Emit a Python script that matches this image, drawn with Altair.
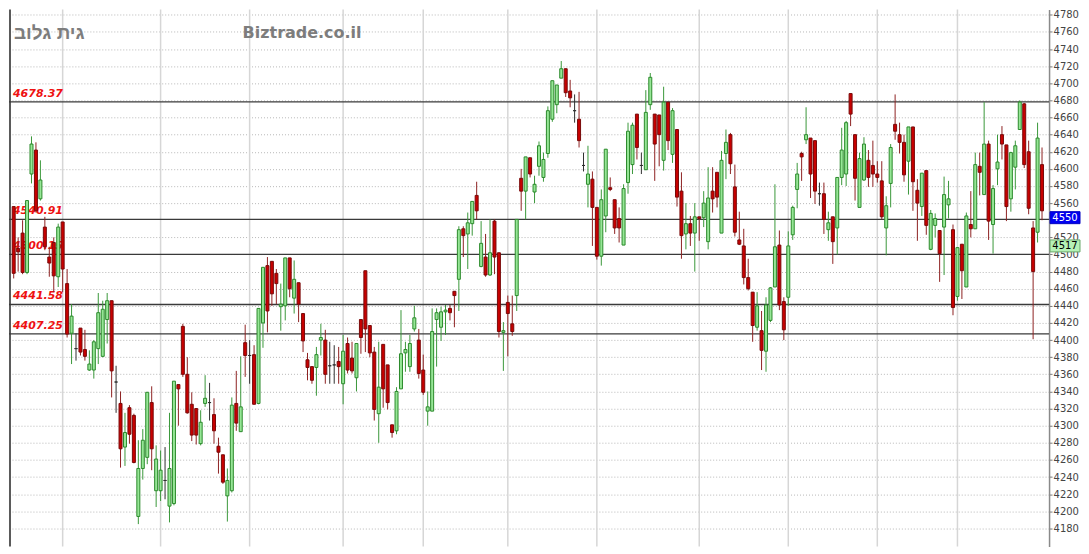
import altair as alt
import pandas as pd

# ---------------- data ----------------
opens = [
    4556, 4507, 4525, 4479, 4594, 4622, 4565, 4532, 4497, 4514,
    4474, 4538, 4466, 4408, 4390, 4414, 4389, 4365, 4365, 4390,
    4381, 4424, 4446, 4351, 4326, 4275, 4321, 4312, 4194, 4250,
    4263, 4327, 4224, 4224, 4236, 4206, 4209, 4348, 4416, 4360,
    4325, 4320, 4279, 4326, 4327, 4313, 4276, 4266, 4218, 4224,
    4326, 4293, 4397, 4382, 4383, 4326, 4420, 4487, 4492, 4478,
    4439, 4440, 4496, 4449, 4467, 4431, 4377, 4369, 4368, 4400,
    4400, 4370, 4371, 4375, 4349, 4396, 4379, 4356, 4424, 4481,
    4417, 4386, 4314, 4395, 4371, 4301, 4294, 4343, 4385, 4369,
    4413, 4400, 4365, 4317, 4317, 4424, 4415, 4433, 4437, 4457,
    4471, 4530, 4524, 4536, 4569, 4486, 4497, 4476, 4539, 4502,
    4409, 4444, 4419, 4452, 4589, 4574, 4613, 4573, 4603, 4590,
    4618, 4658, 4675, 4706, 4717, 4691, 4668, 4658, 4604, 4582,
    4588, 4555, 4498, 4545, 4578, 4564, 4542, 4511, 4584, 4605,
    4664, 4604, 4599, 4675, 4664, 4663, 4610, 4678, 4617, 4646,
    4574, 4524, 4536, 4525, 4544, 4543, 4515, 4574, 4596, 4525,
    4618, 4640, 4579, 4517, 4510, 4473, 4456, 4415, 4411, 4387,
    4423, 4462, 4511, 4445, 4450, 4523, 4576, 4618, 4634, 4636,
    4633, 4571, 4571, 4529, 4544, 4531, 4590, 4594, 4688, 4640,
    4555, 4587, 4610, 4604, 4594, 4586, 4531, 4583, 4652, 4640,
    4631, 4609, 4649, 4575, 4556, 4598, 4506, 4534, 4528, 4532,
    4558, 4529, 4451, 4512, 4462, 4535, 4530, 4603, 4570, 4629,
    4535, 4600, 4640, 4628, 4565, 4602, 4646, 4676, 4620, 4531,
    4526, 4605,
]
highs = [
    4556, 4520, 4540, 4563, 4638, 4631, 4610, 4544, 4509, 4520,
    4536, 4538, 4483, 4442, 4408, 4414, 4412, 4388, 4400, 4455,
    4446, 4455, 4446, 4370, 4340, 4315, 4324, 4314, 4283, 4296,
    4339, 4346, 4277, 4271, 4275, 4315, 4352, 4348, 4419, 4380,
    4339, 4320, 4318, 4359, 4350, 4332, 4286, 4266, 4250, 4333,
    4364, 4381, 4418, 4400, 4394, 4437, 4485, 4497, 4492, 4483,
    4466, 4496, 4496, 4493, 4467, 4431, 4385, 4369, 4392, 4419,
    4412, 4398, 4394, 4392, 4406, 4403, 4398, 4396, 4424, 4481,
    4417, 4392, 4398, 4395, 4371, 4301, 4345, 4435, 4398, 4406,
    4440, 4413, 4383, 4340, 4437, 4437, 4439, 4441, 4441, 4457,
    4533, 4533, 4549, 4562, 4585, 4539, 4524, 4541, 4541, 4502,
    4421, 4452, 4452, 4541, 4600, 4614, 4613, 4592, 4632, 4619,
    4673, 4703, 4698, 4726, 4717, 4704, 4687, 4690, 4619, 4627,
    4597, 4555, 4576, 4623, 4590, 4564, 4555, 4582, 4654, 4654,
    4664, 4619, 4692, 4712, 4664, 4663, 4696, 4678, 4671, 4646,
    4596, 4560, 4545, 4560, 4544, 4574, 4602, 4602, 4596, 4621,
    4646, 4642, 4605, 4550, 4530, 4495, 4456, 4456, 4434, 4450,
    4462, 4582, 4528, 4450, 4527, 4557, 4607, 4620, 4672, 4636,
    4633, 4584, 4584, 4550, 4544, 4590, 4648, 4656, 4688, 4640,
    4619, 4637, 4622, 4633, 4609, 4609, 4568, 4629, 4687, 4654,
    4640, 4649, 4649, 4588, 4595, 4598, 4552, 4548, 4528, 4591,
    4586, 4535, 4508, 4512, 4549, 4574, 4619, 4619, 4678, 4633,
    4581, 4640, 4650, 4628, 4620, 4633, 4680, 4677, 4633, 4539,
    4654, 4625,
]
lows = [
    4472, 4480, 4477, 4477, 4583, 4549, 4563, 4505, 4474, 4456,
    4462, 4456, 4403, 4372, 4376, 4382, 4376, 4364, 4355, 4372,
    4380, 4396, 4333, 4315, 4251, 4253, 4279, 4256, 4185, 4237,
    4255, 4248, 4205, 4212, 4214, 4187, 4207, 4300, 4357, 4314,
    4282, 4278, 4277, 4322, 4306, 4279, 4244, 4232, 4188, 4222,
    4294, 4293, 4357, 4349, 4325, 4325, 4391, 4409, 4440, 4442,
    4411, 4423, 4450, 4431, 4421, 4386, 4353, 4349, 4335, 4382,
    4349, 4349, 4349, 4349, 4325, 4361, 4361, 4340, 4384, 4386,
    4380, 4306, 4280, 4321, 4319, 4286, 4290, 4343, 4363, 4363,
    4410, 4355, 4336, 4300, 4317, 4369, 4399, 4406, 4423, 4415,
    4434, 4497, 4483, 4522, 4541, 4485, 4474, 4475, 4477, 4403,
    4364, 4381, 4405, 4434, 4551, 4541, 4590, 4560, 4592, 4585,
    4613, 4655, 4665, 4706, 4684, 4672, 4654, 4625, 4597, 4555,
    4510, 4494, 4487, 4526, 4574, 4524, 4514, 4511, 4571, 4594,
    4611, 4594, 4599, 4669, 4586, 4603, 4598, 4622, 4607, 4556,
    4495, 4506, 4510, 4480, 4516, 4532, 4506, 4549, 4555, 4525,
    4588, 4594, 4521, 4511, 4465, 4458, 4398, 4411, 4365, 4363,
    4421, 4462, 4435, 4400, 4440, 4517, 4554, 4586, 4629, 4566,
    4559, 4557, 4524, 4516, 4489, 4500, 4581, 4580, 4650, 4563,
    4555, 4586, 4579, 4579, 4584, 4541, 4499, 4555, 4634, 4618,
    4585, 4570, 4551, 4516, 4545, 4523, 4505, 4520, 4468, 4476,
    4542, 4429, 4446, 4448, 4462, 4520, 4530, 4569, 4570, 4517,
    4501, 4581, 4611, 4539, 4550, 4576, 4646, 4601, 4547, 4401,
    4514, 4540,
]
closes = [
    4478, 4503, 4479, 4563, 4629, 4551, 4587, 4509, 4490, 4475,
    4532, 4483, 4407, 4428, 4390, 4386, 4381, 4372, 4398, 4432,
    4436, 4446, 4364, 4351, 4273, 4292, 4290, 4257, 4250, 4283,
    4339, 4273, 4261, 4248, 4236, 4250, 4352, 4343, 4360, 4315,
    4289, 4289, 4304, 4332, 4327, 4294, 4269, 4234, 4236, 4324,
    4303, 4322, 4382, 4382, 4325, 4437, 4485, 4434, 4454, 4466,
    4442, 4496, 4460, 4471, 4442, 4399, 4368, 4353, 4383, 4403,
    4360, 4370, 4371, 4369, 4387, 4365, 4364, 4396, 4403, 4413,
    4385, 4319, 4345, 4343, 4327, 4292, 4340, 4384, 4389, 4396,
    4426, 4361, 4339, 4322, 4410, 4432, 4433, 4435, 4432, 4452,
    4529, 4522, 4537, 4562, 4551, 4513, 4476, 4502, 4497, 4410,
    4411, 4431, 4410, 4541, 4574, 4614, 4594, 4582, 4627, 4611,
    4668, 4703, 4698, 4717, 4689, 4683, 4668, 4633, 4604, 4594,
    4555, 4498, 4564, 4623, 4576, 4531, 4531, 4577, 4644, 4651,
    4625, 4604, 4666, 4707, 4629, 4640, 4678, 4633, 4668, 4567,
    4522, 4536, 4525, 4544, 4542, 4560, 4566, 4565, 4567, 4610,
    4631, 4606, 4526, 4512, 4473, 4460, 4417, 4440, 4388, 4441,
    4461, 4509, 4441, 4412, 4510, 4555, 4594, 4614, 4640, 4594,
    4574, 4571, 4541, 4537, 4515, 4590, 4622, 4654, 4664, 4589,
    4612, 4629, 4590, 4594, 4590, 4544, 4557, 4625, 4644, 4631,
    4593, 4649, 4585, 4560, 4595, 4534, 4548, 4542, 4501, 4570,
    4565, 4438, 4508, 4481, 4545, 4530, 4605, 4596, 4629, 4539,
    4577, 4608, 4629, 4556, 4619, 4627, 4678, 4605, 4554, 4480,
    4636, 4551,
]

# candle positions where the vertical (period) grid lines fall
period_marks = [12, 34, 54, 75, 93, 112, 132, 155, 175, 195, 213]

# horizontal support / resistance levels
levels = [4678.37, 4540.91, 4500.15, 4441.58, 4407.25]
level_labels = ["4678.37", "4540.91", "4500.15", "4441.58", "4407.25"]

# right axis ticks (4540 sits under the last-price tag in the reference)
y_ticks = [v for v in range(4180, 4781, 20) if v != 4540]

# price tags on the right axis
tag_values = [4550, 4517]
tag_labels = ["4550", "4517"]
tag_kind = ["last", "other"]

title_left = "גית גלוב"
title_mid = "Biztrade.co.il"

# ---------------- layout ----------------
W, H = 1042, 538
X_DOMAIN = [-0.054, 233.58]
Y_DOMAIN = [4158.85, 4786.2]
PX_PER_UNIT = H / (Y_DOMAIN[1] - Y_DOMAIN[0])
FONT = "DejaVu Sans"

n = len(opens)
df = pd.DataFrame({
    "i": list(range(1, n + 1)),
    "open": opens, "high": highs, "low": lows, "close": closes,
})
df["dir"] = ["up" if c > o else ("down" if c < o else "flat")
             for o, c in zip(opens, closes)]

xs = alt.Scale(domain=X_DOMAIN, nice=False, zero=False, padding=0)
ys = alt.Scale(domain=Y_DOMAIN, nice=False, zero=False, padding=0)

yax = alt.Axis(orient="right", values=y_ticks, format="d", title=None,
               labelFont=FONT, labelFontSize=10, labelColor="#444444",
               tickSize=3, tickColor="#777777", labelPadding=1,
               domainColor="#8a8a8a", domainWidth=1.5,
               grid=True, gridColor="#b8b8b8", gridDash=[1, 2], gridWidth=1)


def Y(field):
    return alt.Y(field, scale=ys, axis=yax, title=None)


dirs = ["up", "down", "flat"]
fill_scale = alt.Scale(domain=dirs, range=["#96e696", "#c80000", "#303030"])
stroke_scale = alt.Scale(domain=dirs, range=["#2b8a2b", "#780a0a", "#303030"])
wick_scale = alt.Scale(domain=dirs, range=["#3a983a", "#8e2222", "#303030"])

vlines = alt.Chart(pd.DataFrame({"i": period_marks})).mark_rule(
    color="#d6d6d6", strokeWidth=1.5
).encode(x=alt.X("i:Q", scale=xs, axis=None))

left_border = alt.Chart(pd.DataFrame({"a": [0]})).mark_rule(
    color="#5a5a5a", strokeWidth=2
).encode(x=alt.value(1))

lv = pd.DataFrame({"level": levels, "label": level_labels})
level_rules = alt.Chart(lv).mark_rule(color="#3a3a3a", strokeWidth=1.3).encode(
    y=Y("level:Q")
)
level_text = alt.Chart(lv).mark_text(
    align="left", baseline="alphabetic", dy=-5, font=FONT, fontSize=11,
    fontWeight="bold", fontStyle="italic", color="#ee1111"
).encode(
    x=alt.value(4),
    y=Y("level:Q"),
    text="label:N",
)

wicks = alt.Chart(df).mark_rule(strokeWidth=1).encode(
    x=alt.X("i:Q", scale=xs, axis=None),
    y=Y("low:Q"),
    y2="high:Q",
    color=alt.Color("dir:N", scale=wick_scale, legend=None),
)

bodies = alt.Chart(df).mark_bar(size=3, strokeWidth=1).encode(
    x=alt.X("i:Q", scale=xs, axis=None),
    y=Y("open:Q"),
    y2="close:Q",
    fill=alt.Fill("dir:N", scale=fill_scale, legend=None),
    stroke=alt.Stroke("dir:N", scale=stroke_scale, legend=None),
)

title_a = alt.Chart(pd.DataFrame({"t": [title_left]})).mark_text(
    align="left", baseline="middle", font="Liberation Sans", fontSize=19,
    fontWeight="bold", color="#7d7d7d"
).encode(x=alt.value(5), y=alt.value(24), text="t:N")
title_b = alt.Chart(pd.DataFrame({"t": [title_mid]})).mark_text(
    align="left", baseline="middle", font=FONT, fontSize=16,
    fontWeight="bold", color="#7d7d7d"
).encode(x=alt.value(234), y=alt.value(24), text="t:N")

tags = pd.DataFrame({"v": tag_values, "label": tag_labels, "kind": tag_kind})
tags["v2"] = tags["v"] - 12 / PX_PER_UNIT
tags["vm"] = tags["v"] - 6 / PX_PER_UNIT
tag_boxes = alt.Chart(tags).mark_rect(strokeWidth=1).encode(
    x=alt.value(W + 1), x2=alt.value(W + 31),
    y=Y("v:Q"), y2="v2:Q",
    fill=alt.Fill("kind:N", scale=alt.Scale(domain=["last", "other"], range=["#0000f0", "#b6f2b6"]), legend=None),
    stroke=alt.Stroke("kind:N", scale=alt.Scale(domain=["last", "other"], range=["#0000c0", "#6aa86a"]), legend=None),
)
tag_text = alt.Chart(tags).mark_text(
    align="center", baseline="middle", font=FONT, fontSize=10
).encode(
    x=alt.value(W + 16),
    y=Y("vm:Q"),
    text="label:N",
    color=alt.Color("kind:N", scale=alt.Scale(domain=["last", "other"], range=["#ffffff", "#000000"]), legend=None),
)

chart = alt.layer(
    vlines, left_border, level_rules, level_text,
    wicks, bodies, title_a, title_b, tag_boxes, tag_text,
).resolve_scale(
    color="independent", fill="independent", stroke="independent"
).properties(
    width=W, height=H, padding=0, background="white",
).configure_view(stroke=None)

chart.save("out.html", embed_options={"renderer": "svg", "actions": False})
